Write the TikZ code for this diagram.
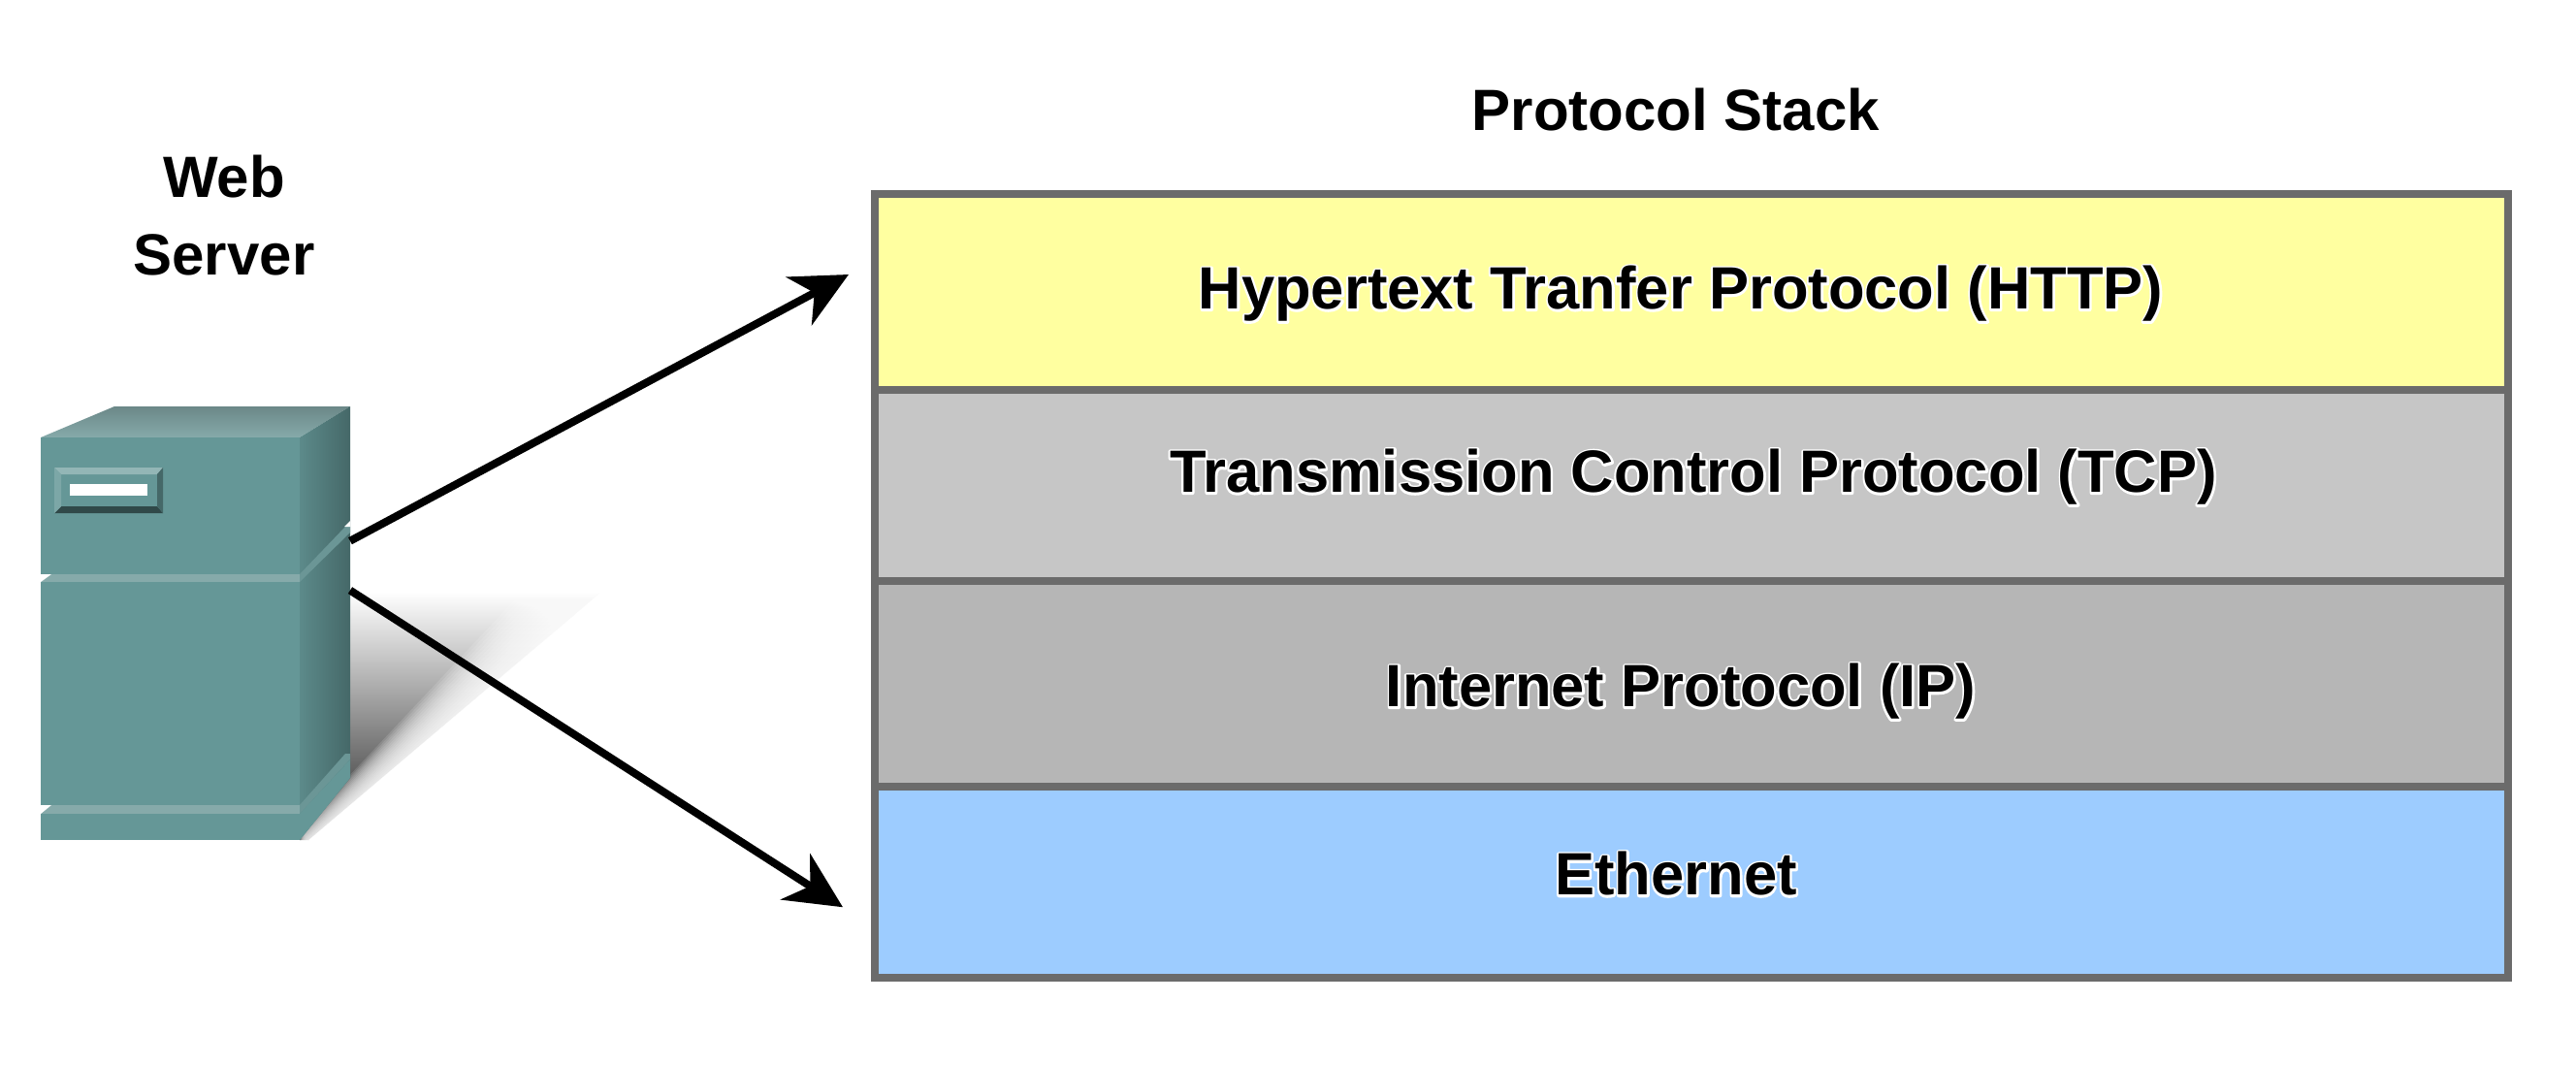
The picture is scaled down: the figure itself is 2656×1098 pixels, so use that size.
\documentclass[tikz,border=0pt]{standalone}
\usepackage{fontspec}
\setmainfont{Liberation Sans}
\usetikzlibrary{positioning}
\usetikzlibrary{arrows.meta}
\definecolor{edgegray}{HTML}{6B6B6B}
\definecolor{httpfill}{HTML}{FFFFA0}
\definecolor{tcpfill}{HTML}{C6C6C6}
\definecolor{ipfill}{HTML}{B6B6B6}
\definecolor{ethfill}{HTML}{9DCCFF}
\definecolor{srvfront}{HTML}{659797}
\definecolor{srvband}{HTML}{86AAAA}
\definecolor{srvbandside}{HTML}{6B9696}
\definecolor{srvsidea}{HTML}{5C8A8A}
\definecolor{srvsideb}{HTML}{456868}
\newcommand{\halotext}[1]{\rlap{\special{pdf:code q 1 Tr 1 1 1 RG 4.5 w 1 j}\textcolor{white}{#1}\special{pdf:code Q}}#1}
\tikzset{layer/.style={rectangle,draw=edgegray,line width=8pt,inner sep=0pt,outer sep=0pt,
minimum width=1684pt},
stacktext/.style={inner sep=0pt,font=\fontsize{61.5}{61.5}\selectfont\bfseries},
titletext/.style={inner sep=0pt,align=center,font=\fontsize{60}{80}\selectfont\bfseries},
srvbox/.style={rectangle,inner sep=0pt,outer sep=0pt,minimum width=319pt,minimum height=447pt},
>={Stealth[length=58pt,width=56pt,inset=18pt]},
link/.style={->,line width=8pt,black}}
\begin{document}
\begin{tikzpicture}[x=1pt,y=-1pt]
  \useasboundingbox (0,0) rectangle (2656,1098);
  % shadow behind the server
  \shade [top color=white,bottom color=black!85] (361,610) -- (620,610) -- (318,866) -- (309,866) -- cycle;
  \foreach \w in {4,8,...,60}
    \fill [white,opacity=0.13] (309,876) -- (660,610) -- ({620-.62*\w},{610-.78*\w}) -- ({318-.15*\w},{866-.2*\w}) -- cycle;
  % server
  \node (server) [srvbox] at (201.5,642.5) {};
  \shade [top color=srvband!80!black,bottom color=srvband] (42,451) -- (118,419) -- (361,419) -- (309,451) -- cycle;
  \shade [left color=srvsidea,right color=srvsideb] (309,451) -- (361,419) -- (361,802) -- (309,866) -- cycle;
  \fill [srvfront] (42,451) rectangle (309,866);
  \fill [srvband] (42,592) rectangle (309,600);
  \fill [srvbandside] (309,592) -- (356,543) -- (361,543) -- (361,549) -- (309,600) -- cycle;
  \fill [srvband] (42,830) rectangle (309,839);
  \fill [srvbandside] (309,830) -- (356,777) -- (361,777) -- (361,783) -- (309,839) -- cycle;
  \fill [srvfront] (309,839) -- (361,783) -- (361,802) -- (309,866) -- cycle;
  \fill [white] (42,592) -- (53,592) -- (42,600) -- cycle;
  \fill [white] (42,830) -- (53,830) -- (42,839) -- cycle;
  \fill [white] (361,537) -- (361,543) -- (355,543) -- cycle;
  % drive slot
  \fill [srvfront!70!white] (56,482) -- (168,482) -- (162,489) -- (63,489) -- cycle;
  \fill [srvsideb!70!black] (56,529) -- (168,529) -- (162,522) -- (63,522) -- cycle;
  \fill [srvfront!85!white] (56,482) -- (63,489) -- (63,522) -- (56,529) -- cycle;
  \fill [srvsideb] (168,482) -- (162,489) -- (162,522) -- (168,529) -- cycle;
  \fill [white] (72,499) rectangle (152,511);
  \node (webtext) [titletext] at (231,222) {Web\\Server};
  % protocol stack
  \node (http) [layer,fill=httpfill,minimum height=202pt] at (1744,301) {};
  \node (tcp) [layer,fill=tcpfill,minimum height=196.5pt] at (1744,500.25) {};
  \node (ip) [layer,fill=ipfill,minimum height=212.5pt] at (1744,704.75) {};
  \node (eth) [layer,fill=ethfill,minimum height=196.5pt] at (1744,909.25) {};
  \node (stacktitle) [titletext] at (1728,113) {Protocol Stack};
  \node (httptext) [stacktext] at (1733,303) {\halotext{Hypertext Tranfer Protocol (HTTP)}};
  \node (tcptext) [stacktext] at (1746,492) {\halotext{Transmission Control Protocol (TCP)}};
  \node (iptext) [stacktext] at (1733,713) {\halotext{Internet Protocol (IP)}};
  \node (ethtext) [stacktext] at (1728,901) {\halotext{Ethernet}};
  \draw [link] (server.28.5) -- ([xshift=-27pt,yshift=18pt]http.west);
  \draw [link] (server.12.5) -- ([xshift=-33pt,yshift=-26pt]eth.west);
\end{tikzpicture}
\end{document}
